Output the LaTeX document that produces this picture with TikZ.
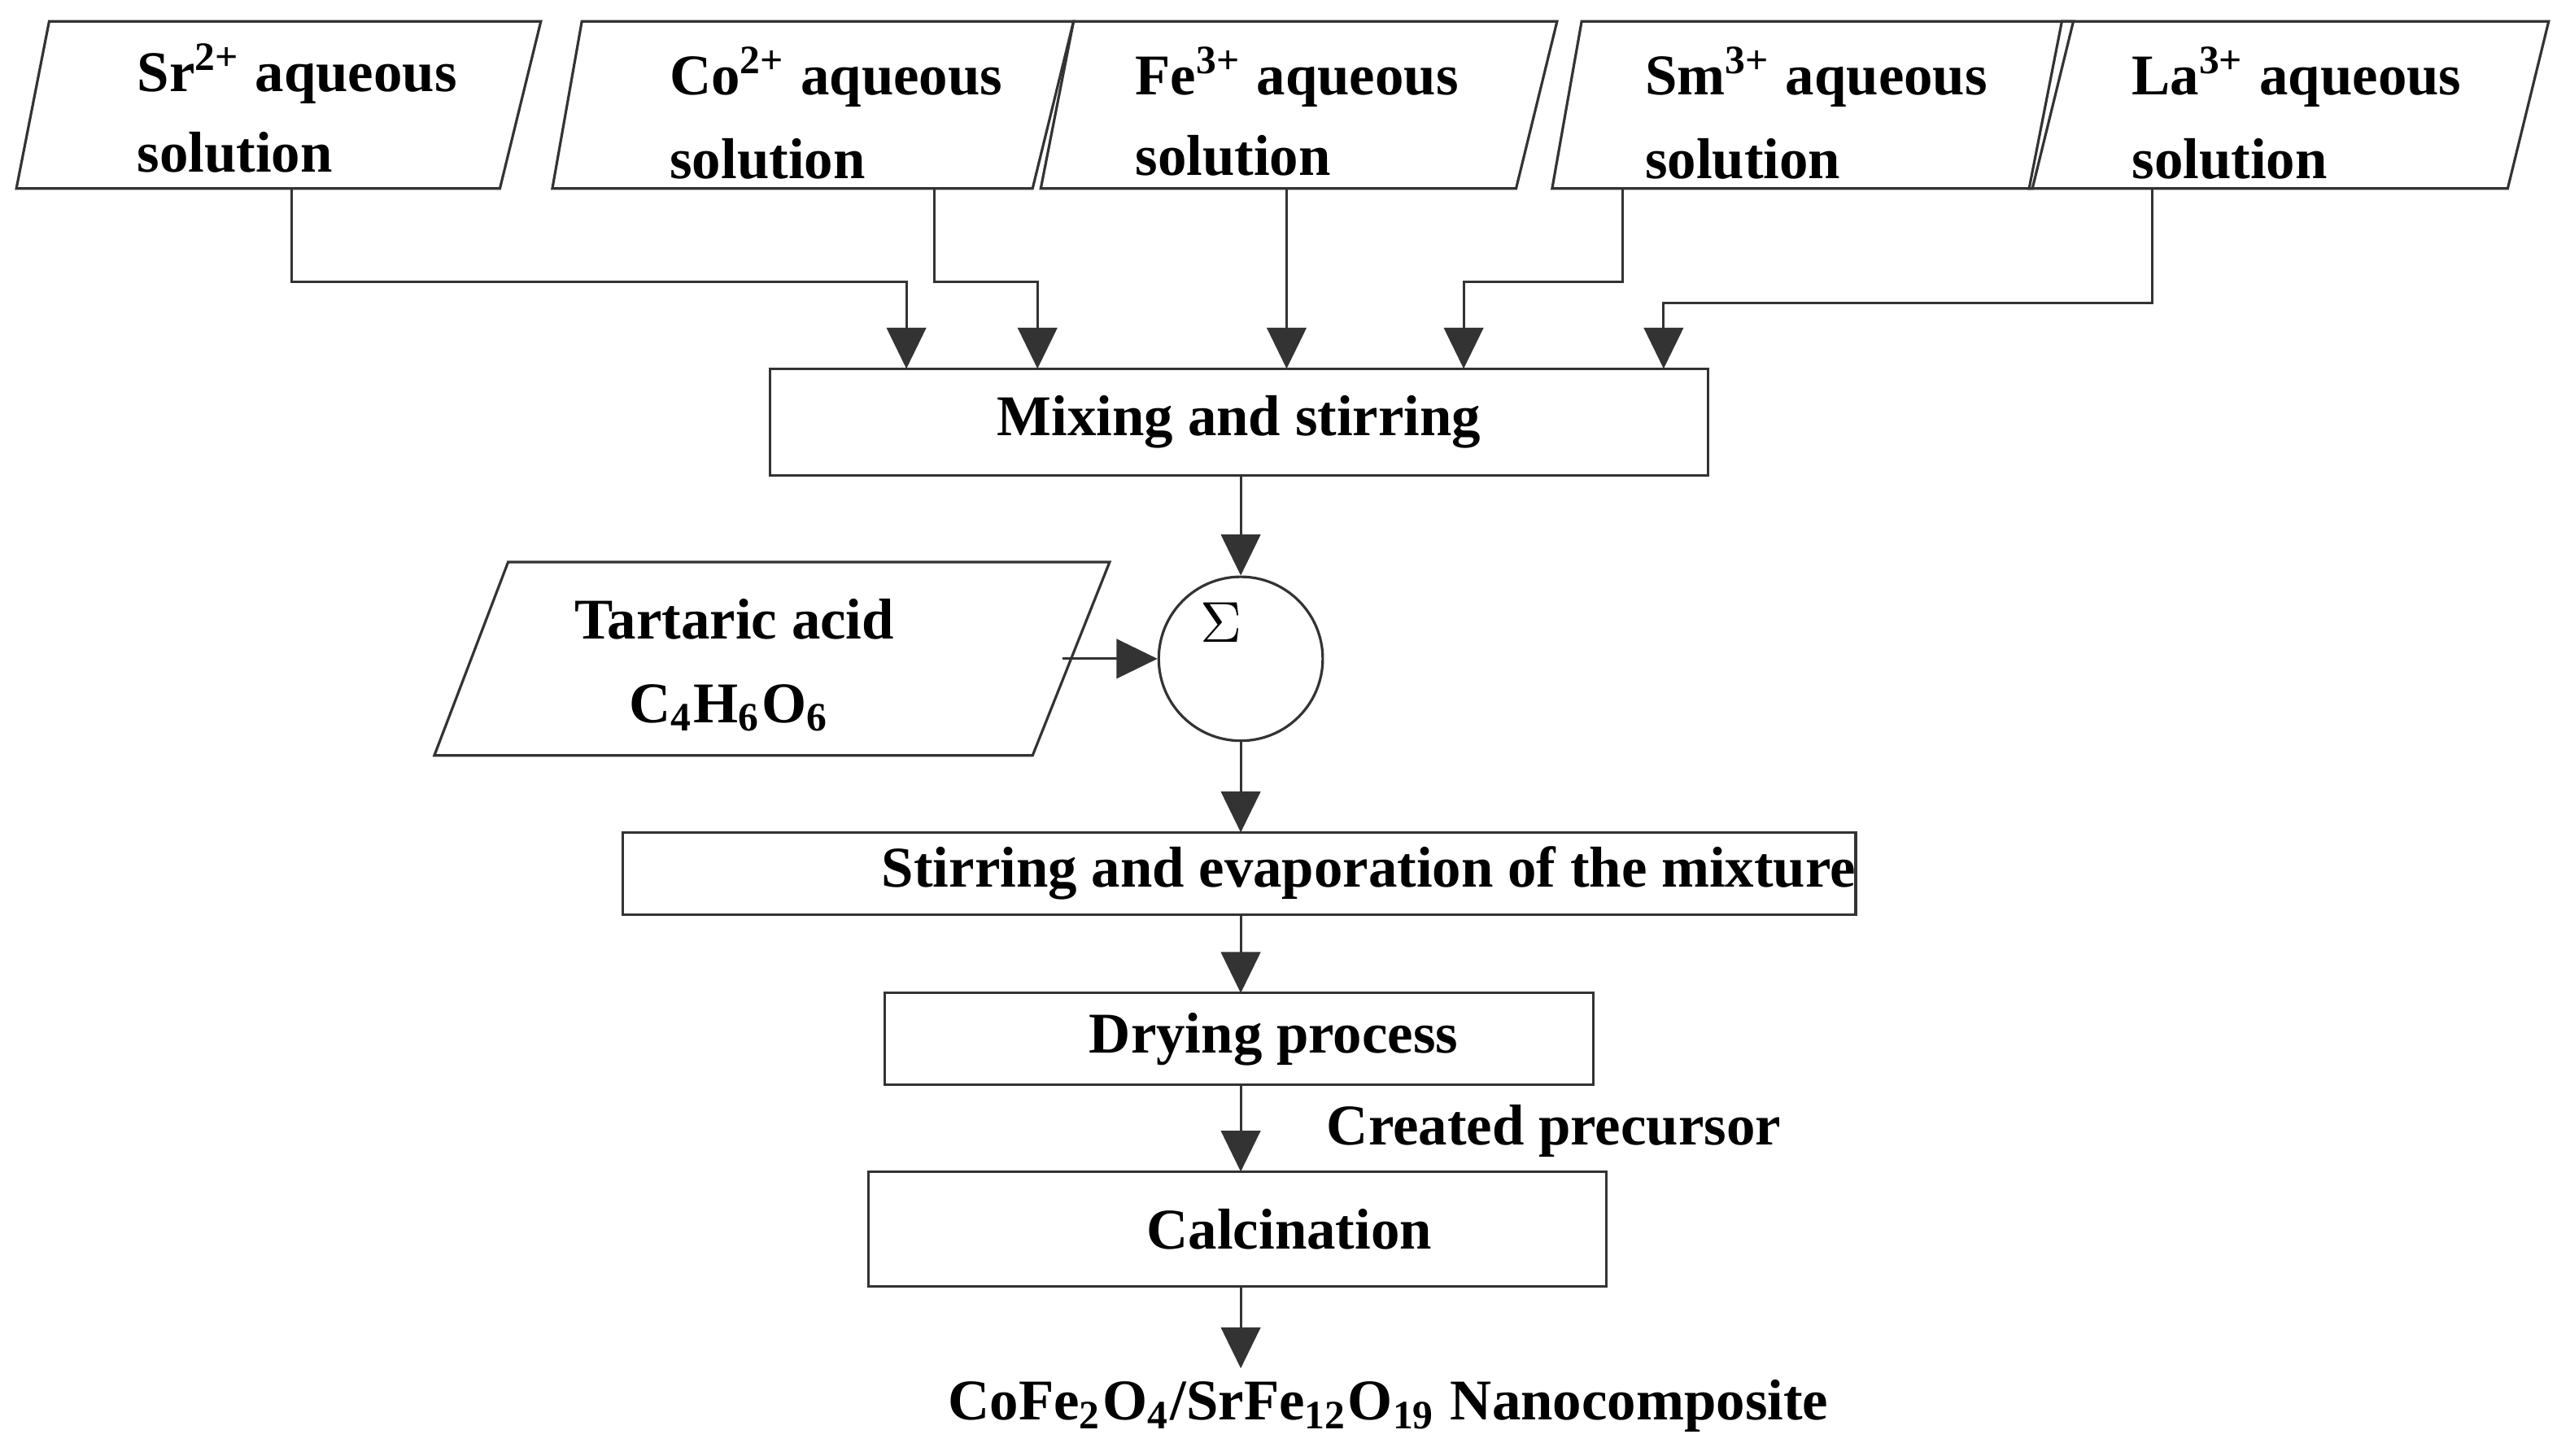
\documentclass[tikz,border=0pt]{standalone}
\usepackage{fontspec}
\setmainfont{Liberation Serif}
\usetikzlibrary{arrows.meta}
\begin{document}
\begin{tikzpicture}[x=0.01cm,y=-0.01cm,
  ln/.style={line width=0.45pt,draw=black!80},
  arr/.style={ln,-{Triangle[length=0.25cm,width=0.24cm]}},
  txt/.style={font=\bfseries\fontsize{10}{12}\selectfont,inner sep=0pt},
  box/.style={ln,draw,rectangle,minimum height=#1,inner sep=0pt}]
\useasboundingbox (0,0) rectangle (1568,888);
% top parallelograms
\foreach \a/\b/\c/\d in {30/330/10/305, 355/655/337/630, 655/950/635/925, 965/1265/947/1240, 1258/1555/1238/1530}{
  \draw[ln] (\a,13) -- (\b,13) -- (\d,115) -- (\c,115) -- cycle;}
\node[txt,anchor=west] (t1) at (83,45) {Sr\textsuperscript{2+} aqueous};
\node[txt,anchor=west] (t1b) at (83,93) {solution};
\node[txt,anchor=west] (t2) at (408,47) {Co\textsuperscript{2+} aqueous};
\node[txt,anchor=west] (t2b) at (408,97) {solution};
\node[txt,anchor=west] (t3) at (692,47) {Fe\textsuperscript{3+} aqueous};
\node[txt,anchor=west] (t3b) at (692,95) {solution};
\node[txt,anchor=west] (t4) at (1003,47) {Sm\textsuperscript{3+} aqueous};
\node[txt,anchor=west] (t4b) at (1003,97) {solution};
\node[txt,anchor=west] (t5) at (1300,47) {La\textsuperscript{3+} aqueous};
\node[txt,anchor=west] (t5b) at (1300,97) {solution};
\coordinate (s1) at (178,115); \coordinate (s2) at (570,115);
\coordinate (s3) at (785,115); \coordinate (s4) at (990,115);
\coordinate (s5) at (1313,115);
% mixing box
\node[box=0.65cm,minimum width=5.72cm,txt] (mix) at (756,257.5) {Mixing and stirring};
\draw[arr] (s1) |- (366,172) -| (553,225);
\draw[arr] (s2) |- (600,172) -| (633,225);
\draw[arr] (s3) -- (785,225);
\draw[arr] (s4) |- (940,172) -| (893,225);
\draw[arr] (s5) |- (1100,185) -| (1015,225);
% sum circle
\node[ln,draw,circle,minimum size=1cm,inner sep=0pt] (sum) at (757,402) {};
\node[txt] (sig) at (745,380) {$\Sigma$};
\draw[arr] (757,290) -- (sum.north);
% tartaric
\draw[ln] (310,343) -- (677,343) -- (630,461) -- (265,461) -- cycle;
\node[txt] (ta) at (448,378) {Tartaric acid};
\node[txt] (tb) at (445,432) {C\textsubscript{4}H\textsubscript{6}O\textsubscript{6}};
\coordinate (tr) at (648,402);
\draw[arr] (tr) -- (sum.west);
% stirring
\node[box=0.5cm,minimum width=6.98cm,txt] (stir) at (756,533) {\hspace*{45pt}Stirring and evaporation of the mixture};
\draw[arr] (sum.south) -- (757,508);
\node[box=0.56cm,minimum width=4.32cm,txt] (dry) at (756,634) {\hspace*{12pt}Drying process};
\draw[arr] (757,558) -- (757,606);
\node[box=0.7cm,minimum width=4.5cm,txt] (cal) at (755,750) {\hspace*{18pt}Calcination};
\draw[arr] (757,662) -- (757,715);
\node[txt] (cp) at (948,690) {Created precursor};
\draw[arr] (757,785) -- (757,835);
\node[txt] (out) at (847,858) {CoFe\textsubscript{2}O\textsubscript{4}/SrFe\textsubscript{12}O\textsubscript{19} Nanocomposite};
\end{tikzpicture}
\end{document}
